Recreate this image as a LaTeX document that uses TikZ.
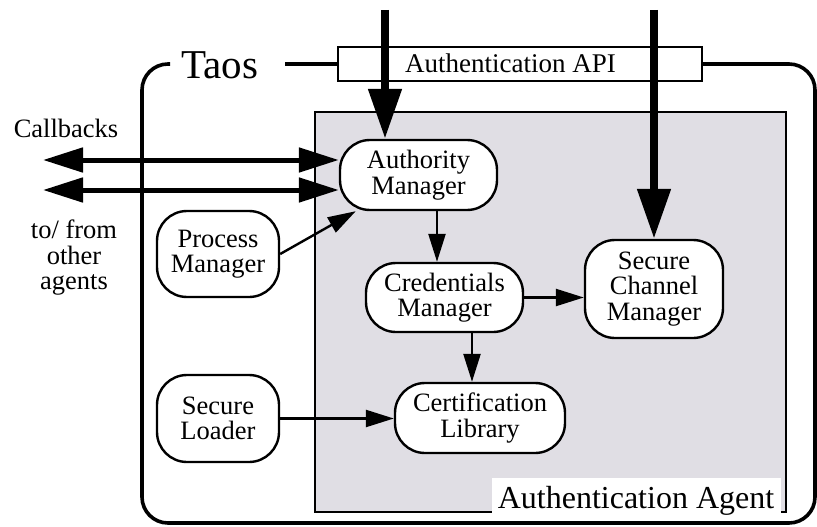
\documentclass[tikz,border=0pt]{standalone}
\usepackage{fontspec}
\setmainfont{Liberation Serif}
\usetikzlibrary{arrows.meta,calc}
\newcommand\mynodefont{\fontsize{26.5}{25.5}\selectfont}
\definecolor{agentgray}{RGB}{224,222,228}
\begin{document}
\begin{tikzpicture}[x=1pt,y=-1pt,
  box/.style={draw, line width=2.4pt, fill=white, rounded corners=30pt, inner sep=0pt, align=center, font=\mynodefont},
  thinarr/.style={line width=2.4pt, -{Triangle[length=28pt,width=17pt]}},
  bigarr/.style={line width=8pt, -{Triangle[length=50pt,width=32pt]}},
  dblarr/.style={line width=5pt, {Triangle[length=40pt,width=24pt]}-{Triangle[length=40pt,width=24pt]}},
  lbl/.style={font=\mynodefont, align=center, inner sep=0pt},
]
\useasboundingbox (0,0) rectangle (817,527);
% outer Taos box
\draw[line width=3.6pt, rounded corners=26pt] (170,64) -- (142,64) -- (142,523) -- (815,523) -- (815,64) -- (702,64);
% agent box
\draw[line width=2.6pt, fill=agentgray] (315,112) rectangle (786,512);
\fill[white] (492,478) rectangle (781,514.5);
\node[anchor=base, inner sep=0pt, font=\fontsize{32}{34}\selectfont] (agent) at (636,508) {Authentication Agent};
% API box
\node[draw, line width=2pt, fill=white, minimum width=364pt, minimum height=34pt, inner sep=0pt] (api) at (520,64) {};
\node[anchor=base west, inner sep=0pt, font=\fontsize{27}{28}\selectfont] (apilbl) at (405,73) {Authentication API};
\node[anchor=base west, inner sep=0pt, font=\fontsize{41}{42}\selectfont] (taos) at (181,78) {Taos};
\coordinate (taosend) at (285,64);
\draw[line width=3.2pt] (taosend) -- (api.west);
% component nodes
\node[box, minimum width=157pt, minimum height=70pt] (auth) at (418.5,175) {Authority\\Manager};
\node[box, minimum width=122pt, minimum height=86pt] (pm) at (218,254) {Process\\Manager};
\node[box, minimum width=122pt, minimum height=87pt] (sl) at (218,418.5) {Secure\\Loader};
\node[box, minimum width=157pt, minimum height=69pt] (cred) at (444.5,297.5) {Credentials\\Manager};
\node[box, minimum width=170pt, minimum height=70pt] (cert) at (480,418) {Certification\\Library};
\node[box, minimum width=138pt, minimum height=98pt] (chan) at (654,289) {Secure\\Channel\\Manager};
% side labels
\node[lbl, anchor=base] (cb) at (66,137) {Callbacks};
\node[lbl] (other) at (74,258) {to/ from\\other\\agents};
% free ends
\coordinate (in1) at (385,10);
\coordinate (in2) at (654,10);
\coordinate (cb1) at (43,160);
\coordinate (cb2) at (43,190);
% connectors
\draw[bigarr] (in1) -- (in1 |- auth.north);
\draw[bigarr] (in2) -- (chan.north);
\draw[dblarr] (cb1) -- (cb1 -| auth.west);
\draw[dblarr] (cb2) -- (cb2 -| auth.west);
\draw[thinarr] (pm.east) -- (auth.210);
\draw[thinarr] ($(auth.south)+(18.5,0)$) -- ($(cred.north)+(-7.5,0)$);
\draw[thinarr] (cred.east) -- (cred.east -| chan.west);
\draw[thinarr] ($(cred.south)+(27.5,0)$) -- ($(cert.north)+(-8,0)$);
\draw[thinarr] (sl.east) -- (sl.east -| cert.west);
\end{tikzpicture}
\end{document}
